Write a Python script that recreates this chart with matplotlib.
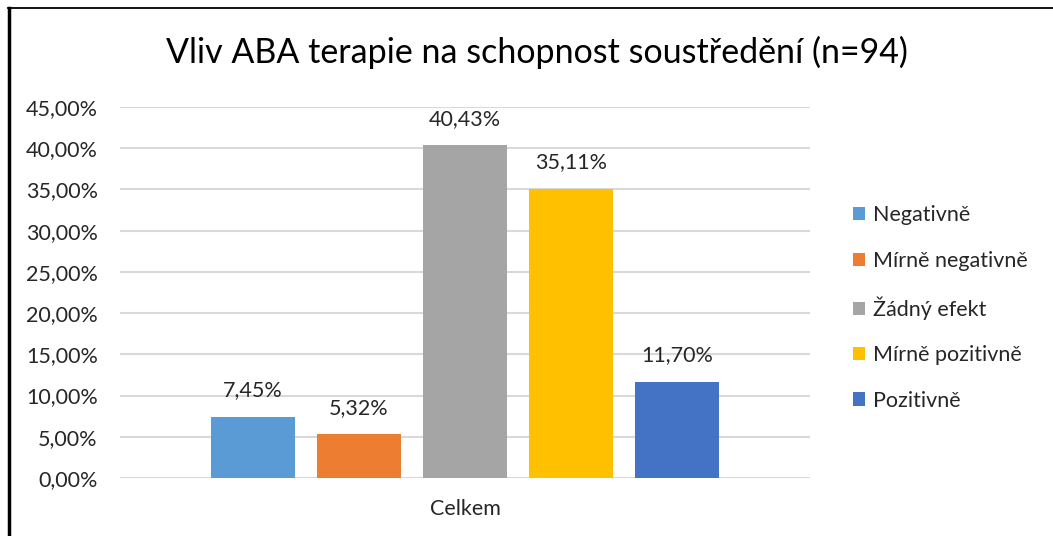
import matplotlib
matplotlib.use("Agg")
import matplotlib.pyplot as plt
from matplotlib.lines import Line2D
from matplotlib.patches import Patch

plt.rcParams['font.family'] = ['Lato', 'Open Sans', 'DejaVu Sans']

categories = ["Celkem"]
series = ["Negativně", "Mírně negativně", "Žádný efekt", "Mírně pozitivně", "Pozitivně"]
values = [7.45, 5.32, 40.43, 35.11, 11.70]
colors = ["#5B9BD5", "#ED7D31", "#A5A5A5", "#FFC000", "#4472C4"]
yticks = [0, 5, 10, 15, 20, 25, 30, 35, 40, 45]

TXT = "#262626"
FS = 15.5

W, H = 1053, 536
fig = plt.figure(figsize=(W / 100, H / 100), dpi=100)
ax = fig.add_axes([120 / W, 1 - 478 / H, 690 / W, 371 / H])

step = 0.1536
width = 0.1217
for i, (s, v, c) in enumerate(zip(series, values, colors)):
    x = (i - 2) * step
    ax.bar(x, v, width=width, color=c, zorder=3, label=s)
    ax.annotate(f"{v:.2f}".replace(".", ",") + "%", xy=(x, v), xytext=(0, 16),
                textcoords="offset pixels", ha="center", va="bottom",
                fontsize=FS, color=TXT)

ax.set_xlim(-0.5, 0.5)
ax.set_ylim(0, 45)
ax.set_yticks(yticks)
ax.set_yticklabels([f"{t:.2f}".replace(".", ",") + "%" for t in yticks], fontsize=FS, color=TXT)
ax.set_xticks([0])
ax.set_xticklabels(categories, fontsize=FS, color=TXT)
ax.tick_params(axis="y", length=0, pad=16)
ax.tick_params(axis="x", length=0, pad=15)
ax.grid(axis="y", color="#D9D9D9", linewidth=1.5, zorder=0)
for sp in ax.spines.values():
    sp.set_visible(False)

fig.text(537 / W, 1 - 52 / H, "Vliv ABA terapie na schopnost soustředění (n=94)",
         ha="center", va="center", fontsize=24.5, color="#000000")

handles = [Patch(facecolor=c, edgecolor="none") for c in colors]
leg = fig.legend(handles, series, loc="center left", bbox_to_anchor=(834 / W, 1 - 308 / H),
                 frameon=False, fontsize=FS, handlelength=0.56, handleheight=0.56,
                 handletextpad=0.33, labelspacing=1.18, labelcolor=TXT)

# figure border (left and top)
fig.add_artist(Line2D([9 / W, 9 / W], [0, 1 - 8 / H], transform=fig.transFigure, color="black", linewidth=2.5))
fig.add_artist(Line2D([8 / W, 1], [1 - 8 / H, 1 - 8 / H], transform=fig.transFigure, color="black", linewidth=1.3))

fig.savefig("out.png", dpi=100)
